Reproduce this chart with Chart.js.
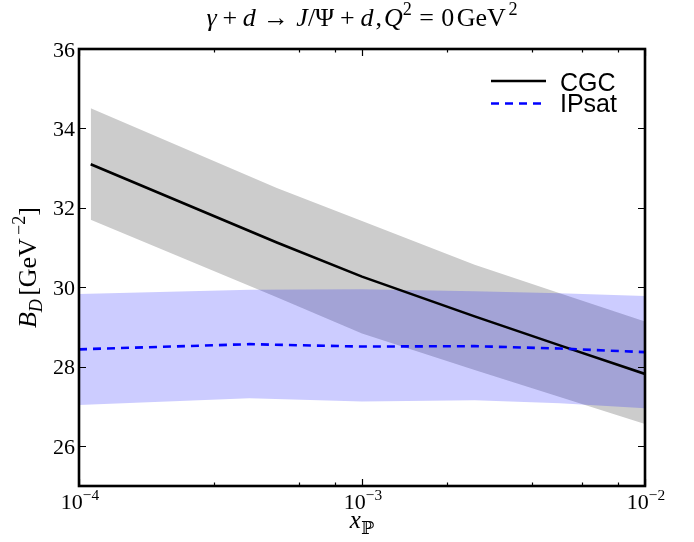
<!DOCTYPE html>
<html>
<head>
<meta charset="utf-8">
<script src="https://cdn.jsdelivr.net/npm/chart.js@4"></script>
<style>
  html, body { margin: 0; padding: 0; background: #fff; }
  canvas { display: block; }
</style>
</head>
<body>
<canvas id="c" width="694" height="542"></canvas>
<script>
// CGC curve: central value and uncertainty band
const cgcX   = [1.1e-4, 5e-4, 1e-3, 2.5e-3, 5e-3, 1e-2];
const cgcMid = [33.10, 31.13, 30.27, 29.27, 28.54, 27.82];
const cgcHi  = [34.51, 32.50, 31.67, 30.57, 29.85, 29.14];
const cgcLo  = [31.70, 29.75, 28.84, 27.92, 27.24, 26.56];

// IPsat curve
const ipX   = [1e-4, 4e-4, 1e-3, 2.5e-3, 5e-3, 1e-2];
const ipMid = [28.44, 28.57, 28.51, 28.52, 28.46, 28.37];
const ipHi  = [29.83, 29.94, 29.95, 29.90, 29.85, 29.78];
const ipLo  = [27.04, 27.21, 27.13, 27.16, 27.08, 26.96];

const yTicks = [26, 28, 30, 32, 34, 36];
const xMajor = [1e-4, 1e-3, 1e-2];
const xMajorExp = ['−4', '−3', '−2'];

const SERIF = '"Liberation Serif", "DejaVu Serif", serif';
const SANS = '"Liberation Sans", Arial, sans-serif';

const pts = (xs, ys) => xs.map((x, i) => ({ x: x, y: ys[i] }));

// draws a run of text pieces (italic / superscript / subscript), pad = extra space in em
function drawRich(ctx, runs, x, y, size, align) {
    let w = 0;
    const items = runs.map(r => {
        const fs = (r.sup || r.sub) ? size * 0.7 : size;
        const font = (r.it ? 'italic ' : '') + fs + 'px ' + SERIF;
        ctx.font = font;
        const pad = (r.pad || 0) * size;
        const mw = ctx.measureText(r.t).width;
        const dy = r.sup ? -size * 0.42 : r.sub ? size * 0.24 : 0;
        w += mw + 2 * pad;
        return { t: r.t, font, mw, dy, pad };
    });
    let cx = align === 'center' ? x - w / 2 : align === 'right' ? x - w : x;
    ctx.textAlign = 'left';
    ctx.textBaseline = 'alphabetic';
    items.forEach(it => {
        ctx.font = it.font;
        cx += it.pad;
        ctx.fillText(it.t, cx, y + it.dy);
        cx += it.mw + it.pad;
    });
}

const decor = {
    id: 'decor',
    afterDraw(chart) {
        const ctx = chart.ctx;
        const a = chart.chartArea;
        const xs = chart.scales.x, ys = chart.scales.y;
        ctx.save();
        ctx.fillStyle = '#000';
        ctx.strokeStyle = '#000';

        // ticks (inward, all four sides)
        ctx.lineWidth = 1.2;
        ctx.beginPath();
        xs.ticks.forEach(t => {
            const v = t.value;
            if (v < 1e-4 * 0.999 || v > 1e-2 * 1.001) return;
            const e = Math.log10(v);
            const major = Math.abs(e - Math.round(e)) < 1e-6;
            const len = major ? 7 : 3.5;
            const px = Math.round(xs.getPixelForValue(v)) + 0.5;
            ctx.moveTo(px, a.bottom); ctx.lineTo(px, a.bottom - len);
            ctx.moveTo(px, a.top); ctx.lineTo(px, a.top + len);
        });
        yTicks.forEach(v => {
            const py = Math.round(ys.getPixelForValue(v)) + 0.5;
            ctx.moveTo(a.left, py); ctx.lineTo(a.left + 7, py);
            ctx.moveTo(a.right, py); ctx.lineTo(a.right - 7, py);
        });
        ctx.stroke();

        // frame
        ctx.lineWidth = 2.6;
        ctx.strokeRect(a.left, a.top, a.right - a.left, a.bottom - a.top);

        // y tick labels
        ctx.font = '22px ' + SERIF;
        ctx.textAlign = 'right';
        ctx.textBaseline = 'alphabetic';
        yTicks.forEach(v => {
            ctx.fillText(String(v), a.left - 4, ys.getPixelForValue(v) + 7.5);
        });

        // x tick labels 10^n
        xMajor.forEach((v, i) => {
            drawRich(ctx, [{ t: '10' }, { t: xMajorExp[i], sup: true }],
                xs.getPixelForValue(v) + 1, a.bottom + 23, 22, 'center');
        });

        // title
        const cx = (a.left + a.right) / 2;
        drawRich(ctx, [
            { t: 'γ', it: true }, { t: '+', pad: 0.22 }, { t: 'd', it: true }, { t: '→', pad: 0.28 },
            { t: 'J', it: true }, { t: '/Ψ' }, { t: '+', pad: 0.22 }, { t: 'd', it: true }, { t: ',', pad: 0.08 },
            { t: 'Q', it: true }, { t: '2', sup: true }, { t: '=', pad: 0.28 }, { t: '0' }, { t: 'GeV', pad: 0.1 }, { t: '2', sup: true }
        ], cx, 26, 26, 'center');

        // x axis title
        drawRich(ctx, [{ t: 'x', it: true }, { t: 'ℙ', sub: true }], cx, 528, 25, 'center');

        // y axis title
        ctx.save();
        ctx.translate(36, (a.top + a.bottom) / 2);
        ctx.rotate(-Math.PI / 2);
        drawRich(ctx, [
            { t: 'B', it: true }, { t: 'D', it: true, sub: true }, { t: '[GeV', pad: 0.12 },
            { t: '−2', sup: true }, { t: ']' }
        ], 0, 0, 26, 'center');
        ctx.restore();

        // legend
        const lx0 = 491, lx1 = 546;
        ctx.lineWidth = 2.6;
        ctx.setLineDash([]);
        ctx.strokeStyle = '#000';
        ctx.beginPath(); ctx.moveTo(lx0, 81); ctx.lineTo(lx1, 81); ctx.stroke();
        ctx.strokeStyle = '#0000ff';
        ctx.setLineDash([8, 6]);
        ctx.beginPath(); ctx.moveTo(lx0, 103.5); ctx.lineTo(lx1, 103.5); ctx.stroke();
        ctx.setLineDash([]);
        ctx.font = '25px ' + SANS;
        ctx.textAlign = 'left';
        ctx.fillStyle = '#000';
        ctx.fillText('CGC', 560, 91);
        ctx.fillText('IPsat', 560, 112);
        ctx.restore();
    }
};

new Chart(document.getElementById('c'), {
    type: 'line',
    data: {
        datasets: [
            { label: 'IPsat', data: pts(ipX, ipMid), borderColor: '#0000ff', borderWidth: 2.6,
              borderDash: [8, 6], pointRadius: 0, fill: false, tension: 0 },
            { label: 'CGC', data: pts(cgcX, cgcMid), borderColor: '#000000', borderWidth: 2.6,
              pointRadius: 0, fill: false, tension: 0 },
            { label: 'IPsat band', data: pts(ipX, ipHi), borderWidth: 0, pointRadius: 0,
              fill: '+1', backgroundColor: 'rgba(0,0,255,0.2)' },
            { label: 'IPsat low', data: pts(ipX, ipLo), borderWidth: 0, pointRadius: 0, fill: false },
            { label: 'CGC band', data: pts(cgcX, cgcHi), borderWidth: 0, pointRadius: 0,
              fill: '+1', backgroundColor: 'rgb(204,204,204)' },
            { label: 'CGC low', data: pts(cgcX, cgcLo), borderWidth: 0, pointRadius: 0, fill: false }
        ]
    },
    options: {
        responsive: false,
        devicePixelRatio: 1,
        animation: false,
        layout: { padding: { left: 79, right: 49, top: 49, bottom: 56 } },
        scales: {
            x: { type: 'logarithmic', min: 1e-4, max: 1e-2, display: false },
            y: { type: 'linear', min: 25, max: 36, display: false }
        },
        plugins: {
            legend: { display: false },
            tooltip: { enabled: false },
            filler: { drawTime: 'beforeDatasetsDraw' }
        }
    },
    plugins: [decor]
});
</script>
</body>
</html>
